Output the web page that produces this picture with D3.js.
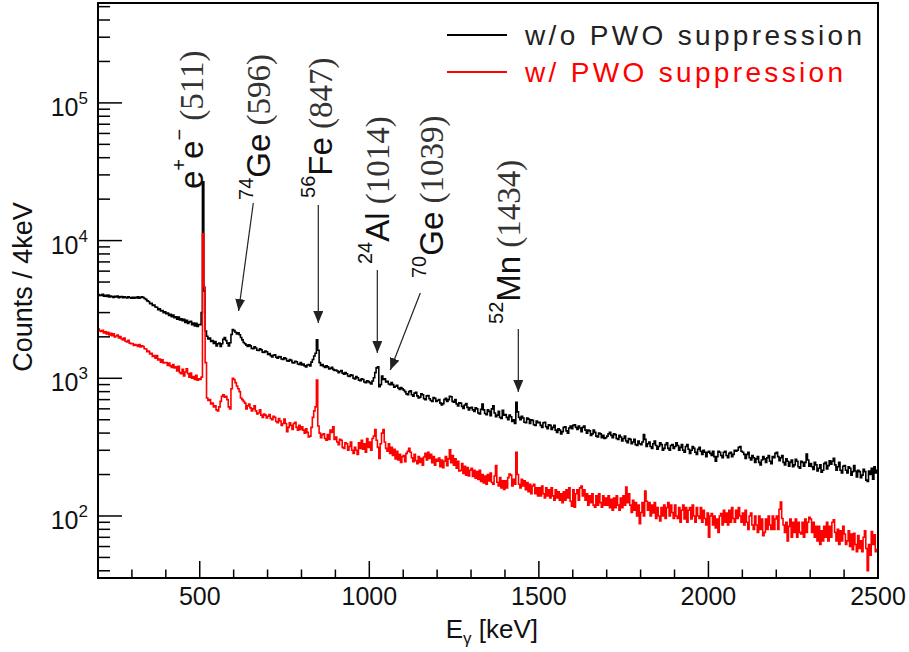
<!DOCTYPE html>
<html>
<head>
<meta charset="utf-8">
<script src="https://cdn.jsdelivr.net/npm/d3@7/dist/d3.min.js"></script>
<style>
  body { margin: 0; background: #fff; }
  svg { display: block; }
  text { font-family: "Liberation Sans", Arial, Helvetica, sans-serif; fill: #111; }
  tspan.num { font-family: "Liberation Serif", "DejaVu Serif", "Times New Roman", Times, serif; }
</style>
</head>
<body>
<svg id="chart" width="909" height="652"></svg>
<script>
// Binning of both spectra (keV).
const binStart = 200;
const binWidth = 4;

// Counts / 4 keV without PWO suppression, 200-2500 keV, one row per 100 keV.
const countsNoSuppression = [
  4050, 3990, 4010, 4070, 3940, 3990, 3930, 4000, 3890, 3960, 3920, 3870, 3940, 3890, 3950, 3850, 3900, 3930, 3850, 3910, 3870, 3830, 3900, 3860, 3820,
  3870, 3810, 3880, 3840, 3900, 3820, 3870, 3910, 3860, 3800, 3740, 3650, 3610, 3480, 3510, 3380, 3400, 3290, 3280, 3150, 3200, 3080, 3110, 2990, 3040,
  2940, 2980, 2860, 2910, 2800, 2880, 2760, 2800, 2690, 2790, 2650, 2700, 2620, 2680, 2540, 2640, 2500, 2570, 2590, 2450, 2520, 2400, 2510, 2380, 2460,
  2450, 3000, 26700, 4300, 2200, 2020, 1930, 1960, 1850, 1880, 1790, 1850, 1720, 1780, 1800, 1700, 1780, 1920, 1980, 1880, 1800, 1720, 1810, 2080, 2260,
  2220, 2160, 2100, 2140, 2070, 1980, 1900, 1820, 1780, 1740, 1700, 1750, 1720, 1650, 1640, 1690, 1660, 1600, 1590, 1640, 1610, 1550, 1540, 1580, 1560,
  1490, 1510, 1460, 1430, 1470, 1480, 1420, 1400, 1440, 1430, 1380, 1370, 1410, 1390, 1340, 1330, 1370, 1350, 1300, 1290, 1330, 1320, 1270, 1260, 1300,
  1250, 1270, 1230, 1210, 1250, 1260, 1230, 1310, 1370, 1450, 1520, 1900, 1600, 1300, 1240, 1260, 1220, 1200, 1230, 1210, 1170, 1180, 1200, 1160, 1140,
  1150, 1130, 1100, 1120, 1140, 1090, 1070, 1100, 1080, 1040, 1030, 1060, 1050, 1000, 990, 1030, 1010, 970, 960, 990, 980, 940, 930, 960, 945,
  930, 910, 955, 1010, 1100, 1190, 1210, 870, 900, 1040, 980, 990, 940, 950, 910, 900, 930, 900, 860, 875, 890, 850, 830, 855, 840,
  820, 800, 770, 760, 800, 810, 760, 740, 780, 790, 745, 720, 730, 770, 760, 710, 700, 745, 750, 710, 690, 680, 725, 715, 680,
  690, 700, 660, 640, 655, 700, 715, 680, 700, 740, 735, 680, 670, 700, 650, 630, 665, 660, 625, 605, 640, 655, 615, 590, 610,
  615, 590, 575, 610, 600, 560, 550, 595, 650, 590, 555, 545, 590, 575, 535, 600, 630, 560, 525, 540, 575, 520, 510, 585, 540,
  545, 520, 500, 540, 525, 485, 500, 470, 670, 570, 520, 500, 530, 515, 480, 475, 515, 505, 470, 500, 495, 460, 455, 490, 475,
  480, 455, 440, 475, 480, 445, 430, 460, 455, 425, 440, 455, 420, 405, 430, 420, 395, 410, 440, 445, 415, 400, 435, 450, 430,
  455, 460, 440, 425, 450, 435, 410, 440, 450, 420, 400, 420, 415, 385, 395, 420, 405, 380, 375, 400, 395, 370, 385, 365, 370,
  380, 395, 405, 385, 370, 395, 390, 365, 360, 385, 375, 350, 365, 380, 350, 340, 365, 360, 335, 345, 360, 330, 325, 350, 335,
  330, 345, 390, 360, 320, 335, 345, 320, 310, 335, 350, 325, 305, 320, 340, 330, 300, 310, 330, 340, 310, 300, 325, 330, 310,
  320, 340, 325, 300, 315, 330, 300, 290, 320, 330, 305, 285, 300, 320, 310, 290, 280, 305, 315, 295, 280, 300, 290, 270, 290,
  295, 285, 275, 295, 270, 250, 270, 295, 290, 275, 265, 290, 295, 275, 265, 285, 290, 270, 280, 300, 295, 300, 315, 320, 295,
  290, 280, 262, 280, 290, 265, 255, 275, 265, 245, 260, 270, 245, 235, 255, 270, 260, 245, 265, 275, 250, 240, 270, 265, 285,
  290, 270, 252, 265, 275, 245, 235, 260, 250, 230, 245, 255, 228, 235, 258, 250, 228, 222, 250, 245, 230, 245, 282, 255, 230,
  240, 228, 218, 245, 235, 212, 222, 235, 208, 215, 240, 245, 220, 232, 252, 238, 250, 262, 235, 215, 228, 245, 215, 205, 230,
  232, 215, 205, 228, 222, 198, 210, 232, 212, 192, 215, 210, 190, 198, 218, 210, 182, 178, 212, 200, 222, 185, 228, 205, 215
];

// Counts / 4 keV with PWO suppression, same bins.
const countsWithSuppression = [
  2280, 2210, 2190, 2230, 2130, 2180, 2100, 2160, 2060, 2120, 2040, 2100, 2000, 2030, 2060, 1960, 2010, 1940, 1900, 1960, 1860, 1840, 1890, 1800, 1780,
  1790, 1730, 1760, 1740, 1700, 1760, 1690, 1720, 1700, 1640, 1630, 1560, 1580, 1500, 1520, 1440, 1460, 1400, 1460, 1360, 1380, 1310, 1360, 1290, 1300,
  1300, 1240, 1290, 1230, 1200, 1260, 1190, 1210, 1130, 1220, 1100, 1080, 1160, 1040, 1110, 1170, 1080, 1020, 1090, 1000, 1030, 980, 1050, 970, 990,
  980, 1020, 11200, 4600, 1300, 720, 690, 700, 650, 660, 620, 630, 590, 580, 620, 680, 740, 760, 730, 740, 700, 620, 600, 840, 1000,
  980, 930, 880, 840, 800, 720, 700, 680, 660, 600, 630, 650, 610, 580, 600, 630, 580, 550, 560, 590, 540, 520, 550, 540, 515,
  530, 545, 510, 500, 530, 520, 485, 475, 510, 490, 455, 470, 505, 470, 410, 440, 475, 455, 425, 470, 480, 440, 420, 455, 425,
  445, 420, 400, 430, 405, 375, 380, 440, 520, 580, 620, 970, 450, 400, 370, 390, 395, 365, 355, 390, 360, 420, 405, 445, 360,
  375, 345, 330, 360, 355, 315, 310, 340, 335, 300, 320, 345, 300, 285, 315, 300, 280, 340, 310, 355, 305, 335, 290, 365, 315,
  345, 300, 365, 380, 425, 355, 315, 262, 335, 400, 425, 345, 310, 295, 335, 285, 315, 275, 305, 260, 295, 255, 280, 245, 270,
  275, 248, 285, 295, 310, 290, 265, 248, 280, 252, 240, 270, 245, 262, 234, 268, 285, 255, 290, 262, 280, 244, 270, 234, 258,
  250, 264, 228, 255, 224, 250, 270, 232, 260, 302, 244, 275, 234, 260, 222, 250, 212, 214, 240, 204, 230, 198, 225, 195, 215,
  222, 194, 215, 188, 210, 184, 215, 178, 200, 174, 195, 170, 200, 180, 205, 175, 170, 195, 232, 176, 165, 190, 160, 180, 156,
  180, 160, 190, 202, 198, 165, 185, 170, 290, 200, 170, 160, 185, 165, 180, 155, 175, 150, 170, 145, 165, 170, 145, 160, 140,
  160, 140, 165, 145, 135, 160, 140, 155, 135, 160, 140, 130, 155, 135, 150, 130, 145, 125, 150, 130, 155, 135, 160, 128, 118,
  155, 116, 145, 155, 130, 160, 165, 140, 155, 130, 145, 120, 140, 125, 145, 120, 116, 140, 120, 145, 125, 116, 140, 120, 135,
  120, 140, 115, 132, 110, 135, 115, 140, 120, 110, 135, 115, 140, 120, 162, 125, 145, 120, 106, 130, 110, 125, 100, 120, 88,
  106, 125, 100, 152, 128, 110, 125, 100, 120, 105, 125, 96, 115, 100, 92, 115, 100, 120, 96, 115, 125, 100, 120, 106, 96,
  120, 100, 96, 115, 90, 110, 120, 95, 115, 90, 110, 115, 95, 120, 100, 90, 115, 100, 96, 115, 90, 110, 96, 86, 105,
  70, 100, 104, 86, 100, 82, 95, 76, 100, 104, 86, 110, 90, 105, 86, 110, 90, 115, 96, 90, 110, 96, 115, 100, 90,
  105, 86, 110, 90, 80, 100, 105, 86, 80, 100, 86, 76, 100, 80, 95, 72, 76, 95, 80, 100, 86, 80, 100, 80, 95,
  100, 80, 112, 126, 96, 86, 76, 90, 66, 84, 95, 70, 90, 76, 95, 70, 90, 76, 74, 90, 70, 95, 76, 90, 98,
  95, 76, 90, 70, 84, 66, 84, 62, 78, 66, 84, 70, 90, 66, 84, 70, 90, 94, 76, 66, 80, 62, 78, 66, 84,
  74, 62, 66, 78, 60, 74, 57, 75, 62, 55, 72, 58, 66, 55, 70, 78, 58, 40, 62, 52, 77, 62, 73, 55, 57
];

const seriesNames = ['w/o PWO suppression', 'w/ PWO suppression'];
const seriesColors = ['#000000', '#ff0000'];
const xTickLabels = [500, 1000, 1500, 2000, 2500];
const yDecades = [2, 3, 4, 5];

// Peak annotations: text parts plus text anchor and arrow (energy keV, counts).
const peakNotes = [
  { parts: [['e', 'm'], ['+', 's'], ['e', 'm'], ['\u2212', 's'], [' (511)', 'n']], text: [510.5, 23700], arrow: null },
  { parts: [['74', 's'], ['Ge', 'm'], [' (596)', 'n']], text: [708, 19720], arrow: [[658, 18750], [614.6, 3082]] },
  { parts: [['56', 's'], ['Fe', 'm'], [' (847)', 'n']], text: [891, 20390], arrow: [[849.6, 18140], [849.6, 2521]] },
  { parts: [['24', 's'], ['Al', 'm'], [' (1014)', 'n']], text: [1059, 6761], arrow: [[1023.6, 6116], [1023.6, 1527]] },
  { parts: [['70', 's'], ['Ge', 'm'], [' (1039)', 'n']], text: [1218, 5350], arrow: [[1150.4, 4165], [1061.9, 1149]] },
  { parts: [['52', 's'], ['Mn', 'm'], [' (1434)', 'n']], text: [1445.3, 2480], arrow: [[1439.4, 2280], [1439.4, 795]] }
];

// Layout.
const margin = { top: 3, left: 98 };
const width = 780;
const height = 575;

const svg = d3.select('#chart');
const g = svg.append('g').attr('transform', `translate(${margin.left},${margin.top})`);

const xScale = d3.scaleLinear().domain([200, 2500]).range([0, width]);
const yScale = d3.scaleLog().domain([35.45, 531500]).range([height, 0]);

svg.append('defs').append('clipPath').attr('id', 'plot-clip')
  .append('rect').attr('width', width).attr('height', height);

// Histograms drawn as steps.
function toSteps(counts) {
  const pts = counts.map((c, i) => [binStart + i * binWidth, c]);
  pts.push([binStart + counts.length * binWidth, counts[counts.length - 1]]);
  return pts;
}
const stepLine = d3.line()
  .x(d => xScale(d[0]))
  .y(d => yScale(d[1]))
  .curve(d3.curveStepAfter);

const series = [countsNoSuppression, countsWithSuppression];
g.append('g').attr('clip-path', 'url(#plot-clip)')
  .selectAll('path')
  .data(series)
  .join('path')
  .attr('d', d => stepLine(toSteps(d)))
  .attr('fill', 'none')
  .attr('stroke', (d, i) => seriesColors[i])
  .attr('stroke-width', 1.6)
  .attr('stroke-linejoin', 'miter');

// Frame.
g.append('rect')
  .attr('width', width).attr('height', height)
  .attr('fill', 'none').attr('stroke', '#000').attr('stroke-width', 2);

// Y ticks (inside, left only).
const isDecade = v => Math.abs(Math.log10(v) - Math.round(Math.log10(v))) < 1e-9;
g.append('g').selectAll('line')
  .data(yScale.ticks())
  .join('line')
  .attr('x1', 0).attr('x2', d => (isDecade(d) ? 24 : 12))
  .attr('y1', d => yScale(d)).attr('y2', d => yScale(d))
  .attr('stroke', '#000').attr('stroke-width', 1.5);

// X ticks (inside, bottom only).
g.append('g').selectAll('line')
  .data(xScale.ticks(23))
  .join('line')
  .attr('x1', d => xScale(d)).attr('x2', d => xScale(d))
  .attr('y1', height).attr('y2', d => height - (xTickLabels.includes(d) ? 17 : 8.5))
  .attr('stroke', '#000').attr('stroke-width', 1.5);

// Y tick labels 10^n.
const yLab = g.append('g').selectAll('text')
  .data(yDecades)
  .join('text')
  .attr('x', -10)
  .attr('y', d => yScale(Math.pow(10, d)) + 13)
  .attr('text-anchor', 'end')
  .style('font-size', '25px');
yLab.append('tspan').text('10');
yLab.append('tspan').attr('dy', -12).style('font-size', '17px').text(d => d);

// X tick labels.
g.append('g').selectAll('text')
  .data(xTickLabels)
  .join('text')
  .attr('x', d => xScale(d))
  .attr('y', height + 27)
  .attr('text-anchor', 'middle')
  .style('font-size', '25px')
  .text(d => d);

// Axis titles.
const xTitle = svg.append('text')
  .attr('x', 538).attr('y', 638)
  .attr('text-anchor', 'end')
  .style('font-size', '26px');
xTitle.append('tspan').text('E');
xTitle.append('tspan').attr('dy', 6).style('font-size', '17px').text('\u03b3');
xTitle.append('tspan').attr('dy', -6).text(' [keV]');

svg.append('text')
  .attr('transform', 'translate(32,287) rotate(-90)')
  .attr('text-anchor', 'middle')
  .style('font-size', '27px')
  .text('Counts / 4keV');

// Peak labels and arrows.
svg.append('defs').append('marker')
  .attr('id', 'arrowhead')
  .attr('viewBox', '0 0 12 10')
  .attr('refX', 12).attr('refY', 5)
  .attr('markerWidth', 12).attr('markerHeight', 10)
  .attr('markerUnits', 'userSpaceOnUse')
  .attr('orient', 'auto')
  .append('path').attr('d', 'M0,0 L12,5 L0,10 Z').attr('fill', '#222');

const notes = g.append('g');
peakNotes.forEach(note => {
  const t = notes.append('text')
    .attr('transform', `translate(${xScale(note.text[0])},${yScale(note.text[1])}) rotate(-90)`)
    .style('font-size', '33px');
  let shift = 0;
  note.parts.forEach(([str, kind]) => {
    const target = kind === 's' ? -17 : 0;
    const span = t.append('tspan').attr('dy', target - shift).text(str);
    if (kind === 's') span.style('font-size', '20px');
    if (kind === 'n') span.attr('class', 'num').style('fill', '#333');
    shift = target;
  });
  if (note.arrow) {
    notes.append('line')
      .attr('x1', xScale(note.arrow[0][0])).attr('y1', yScale(note.arrow[0][1]))
      .attr('x2', xScale(note.arrow[1][0])).attr('y2', yScale(note.arrow[1][1]))
      .attr('stroke', '#222').attr('stroke-width', 1.2)
      .attr('marker-end', 'url(#arrowhead)');
  }
});

// Legend.
const legend = svg.append('g');
const legendRows = legend.selectAll('g')
  .data(seriesNames)
  .join('g')
  .attr('transform', (d, i) => `translate(0,${35 + i * 37})`);
legendRows.append('line')
  .attr('x1', 447).attr('x2', 507)
  .attr('stroke', (d, i) => seriesColors[i]).attr('stroke-width', 2);
legendRows.append('text')
  .attr('x', 525).attr('y', 10)
  .attr('textLength', (d, i) => (i === 0 ? 337 : 318))
  .attr('lengthAdjust', 'spacing')
  .style('font-size', '28px')
  .style('fill', (d, i) => (i === 0 ? '#222' : seriesColors[i]))
  .text(d => d);
</script>
</body>
</html>
